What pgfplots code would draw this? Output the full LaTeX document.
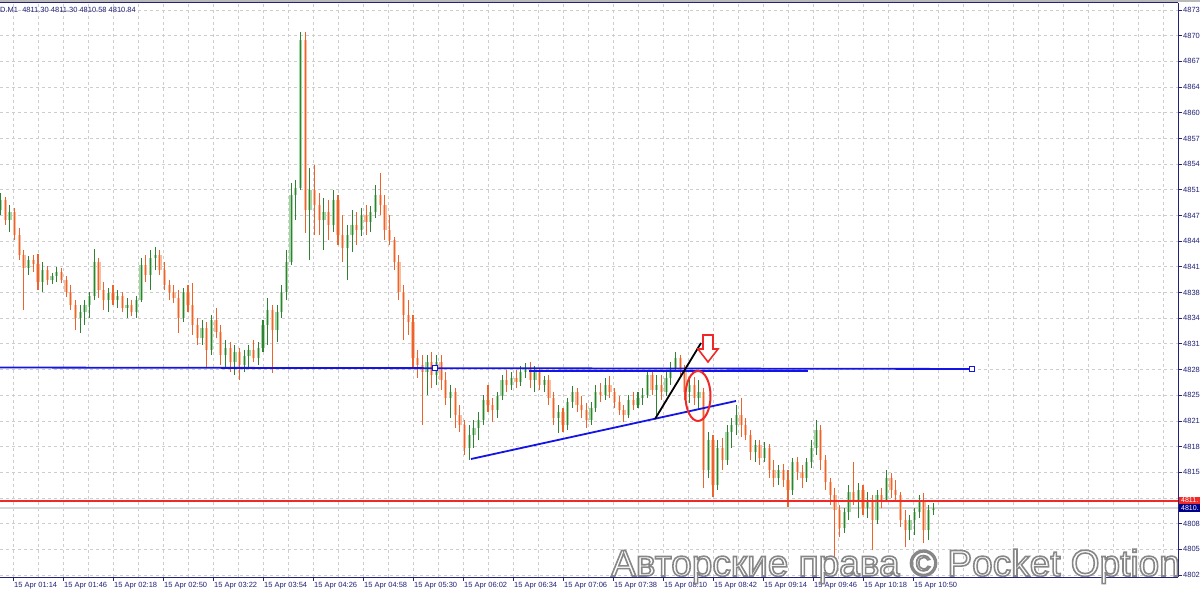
\documentclass[border=0pt]{standalone}
\usepackage{fontspec}
\setmainfont{Liberation Sans}
\usepackage{pgfplots}
\usepackage{pgfplotstable}
\pgfplotsset{compat=1.18}
\definecolor{upwick}{RGB}{46,130,50}
\definecolor{upbody}{RGB}{165,212,165}
\definecolor{dnwick}{RGB}{236,100,44}
\definecolor{dnbody}{RGB}{250,188,158}
\definecolor{tblue}{RGB}{20,20,230}
\definecolor{navy}{RGB}{34,34,120}
\definecolor{gridc}{RGB}{205,205,205}
\definecolor{askred}{RGB}{240,40,40}
\definecolor{bidgray}{RGB}{215,215,215}
\definecolor{boxblue}{RGB}{0,0,140}

\pgfplotstableread{
t o h l c
66 4848.08 4850.21 4847.46 4849.33
69 4849.33 4849.71 4846.21 4846.83
72 4846.83 4848.71 4845.33 4847.83
75 4847.83 4848.33 4844.33 4844.96
78 4844.96 4845.83 4841.83 4842.46
81 4842.46 4843.08 4835.58 4840.83
84 4840.83 4842.33 4839.96 4841.83
87 4841.83 4842.46 4840.33 4841.33
90 4841.33 4842.58 4838.08 4839.08
93 4839.08 4841.58 4837.83 4840.58
96 4840.58 4841.08 4838.71 4839.33
99 4839.33 4840.21 4838.83 4839.83
102 4839.83 4840.96 4839.08 4840.33
105 4840.33 4840.83 4838.96 4839.33
108 4839.33 4839.83 4837.21 4837.83
111 4837.83 4838.71 4835.58 4836.21
114 4836.21 4836.83 4833.08 4834.58
117 4834.58 4836.21 4832.71 4835.33
120 4835.33 4836.83 4833.71 4836.21
123 4836.21 4837.83 4834.58 4837.33
126 4837.33 4843.21 4836.83 4841.58
129 4841.58 4842.08 4837.08 4838.08
132 4838.08 4839.08 4835.58 4836.83
135 4836.83 4838.33 4835.33 4837.71
138 4837.71 4838.71 4836.21 4836.83
141 4836.83 4838.08 4835.83 4837.33
144 4837.33 4837.83 4835.33 4835.83
147 4835.83 4837.08 4834.58 4836.21
150 4836.21 4836.83 4834.83 4835.33
153 4835.33 4837.33 4834.58 4836.83
156 4836.83 4842.08 4836.58 4841.21
159 4841.21 4842.46 4839.08 4839.96
162 4839.96 4843.08 4838.08 4842.08
165 4842.08 4843.46 4840.58 4842.46
168 4842.46 4843.08 4839.96 4840.58
171 4840.58 4841.58 4838.08 4838.71
174 4838.71 4839.33 4836.83 4837.83
177 4837.83 4838.71 4836.46 4837.08
180 4837.08 4838.08 4832.71 4834.58
183 4834.58 4838.33 4834.08 4837.83
186 4837.83 4838.71 4835.33 4836.21
189 4836.21 4838.96 4832.46 4833.71
192 4833.71 4834.58 4831.21 4832.08
195 4832.08 4834.33 4831.21 4833.33
198 4833.33 4834.08 4828.46 4830.58
201 4830.58 4834.96 4829.96 4834.33
204 4834.33 4835.83 4832.08 4832.83
207 4832.83 4833.71 4828.71 4829.96
210 4829.96 4831.83 4828.33 4830.83
213 4830.83 4831.58 4827.83 4829.08
216 4829.08 4831.21 4827.46 4830.33
219 4830.33 4830.83 4826.83 4828.71
222 4828.71 4830.58 4827.83 4829.83
225 4829.83 4831.21 4828.33 4830.58
228 4830.58 4831.83 4829.08 4829.58
231 4829.58 4831.58 4828.71 4830.83
234 4830.83 4834.33 4830.33 4833.71
237 4833.71 4837.08 4831.21 4835.58
240 4835.58 4836.21 4827.71 4833.08
243 4833.08 4836.21 4831.58 4835.33
246 4835.33 4838.71 4834.58 4837.83
249 4837.83 4843.08 4836.83 4841.58
252 4841.58 4851.46 4841.21 4849.96
255 4849.96 4851.83 4846.83 4850.83
258 4850.83 4870.33 4850.58 4869.33
261 4869.33 4870.33 4845.21 4848.08
264 4848.08 4853.33 4841.83 4850.58
267 4850.58 4853.71 4844.96 4848.71
270 4848.71 4850.21 4844.96 4846.83
273 4846.83 4849.58 4843.08 4847.83
276 4847.83 4849.33 4844.33 4846.21
279 4846.21 4850.58 4845.33 4849.33
282 4849.33 4849.96 4843.71 4844.96
285 4844.96 4847.46 4841.58 4843.33
288 4843.33 4846.21 4839.33 4844.96
291 4844.96 4848.08 4842.83 4846.21
294 4846.21 4847.83 4843.71 4845.58
297 4845.58 4848.33 4844.83 4847.46
300 4847.46 4848.71 4844.96 4846.58
303 4846.58 4848.58 4845.33 4847.83
306 4847.83 4851.21 4847.08 4849.96
309 4849.96 4852.71 4847.46 4848.71
312 4848.71 4849.96 4844.33 4845.58
315 4845.58 4847.46 4843.71 4844.33
318 4844.33 4844.71 4840.58 4841.58
321 4841.58 4842.46 4836.83 4837.83
324 4837.83 4838.71 4831.83 4834.96
327 4834.96 4836.83 4832.46 4834.08
330 4834.08 4834.96 4828.46 4829.58
333 4829.58 4830.58 4827.08 4828.71
336 4828.71 4829.96 4821.21 4827.83
339 4827.83 4829.96 4824.96 4829.08
342 4829.08 4830.33 4825.83 4827.46
345 4827.46 4829.96 4826.21 4829.08
348 4829.08 4829.96 4825.58 4826.83
351 4826.83 4827.83 4823.71 4824.58
354 4824.58 4826.21 4822.08 4825.33
357 4825.33 4825.83 4820.83 4822.46
360 4822.46 4823.71 4820.33 4821.21
363 4821.21 4821.83 4817.46 4818.33
366 4818.33 4821.21 4816.83 4819.96
369 4819.96 4821.83 4818.33 4820.83
372 4820.83 4822.83 4819.33 4821.83
375 4821.83 4824.96 4821.21 4824.33
378 4824.33 4826.21 4822.83 4823.71
381 4823.71 4824.58 4821.58 4823.08
384 4823.08 4825.33 4822.08 4824.83
387 4824.83 4827.46 4824.33 4826.83
390 4826.83 4828.08 4825.33 4826.21
393 4826.21 4827.83 4825.58 4827.08
396 4827.08 4828.08 4825.83 4826.58
399 4826.58 4828.58 4826.08 4827.83
402 4827.83 4828.96 4827.08 4828.33
405 4828.33 4829.08 4825.83 4826.83
408 4826.83 4828.58 4825.33 4827.83
411 4827.83 4828.33 4825.58 4826.21
414 4826.21 4827.33 4825.33 4826.83
417 4826.83 4827.46 4823.71 4824.58
420 4824.58 4825.33 4821.21 4822.08
423 4822.08 4823.71 4820.21 4822.83
426 4822.83 4823.33 4820.33 4821.21
429 4821.21 4824.58 4820.58 4824.08
432 4824.08 4826.08 4823.33 4825.33
435 4825.33 4825.83 4822.83 4823.71
438 4823.71 4824.83 4822.08 4823.08
441 4823.08 4823.96 4820.83 4821.83
444 4821.83 4824.08 4821.21 4823.33
447 4823.33 4826.21 4822.83 4825.33
450 4825.33 4826.46 4824.08 4824.96
453 4824.96 4827.08 4824.33 4826.21
456 4826.21 4827.33 4824.58 4825.33
459 4825.33 4825.83 4823.33 4824.08
462 4824.08 4824.83 4822.46 4823.08
465 4823.08 4823.71 4821.58 4822.46
468 4822.46 4824.96 4822.08 4824.33
471 4824.33 4825.33 4823.08 4823.71
474 4823.71 4825.33 4823.33 4824.58
477 4824.58 4825.83 4823.71 4824.96
480 4824.96 4828.08 4824.58 4827.46
483 4827.46 4827.83 4824.96 4825.58
486 4825.58 4827.46 4822.08 4826.21
489 4826.21 4827.46 4824.33 4825.33
492 4825.33 4828.08 4824.83 4827.08
495 4827.08 4829.08 4826.21 4828.33
498 4828.33 4830.33 4827.83 4829.58
501 4829.58 4829.96 4827.08 4828.08
504 4828.08 4828.71 4824.33 4825.33
507 4825.33 4827.08 4823.96 4826.21
510 4826.21 4827.21 4823.71 4824.58
513 4824.58 4826.83 4823.08 4825.33
516 4825.33 4825.83 4813.33 4815.58
519 4815.58 4820.33 4814.58 4819.33
522 4819.33 4819.96 4812.21 4813.71
525 4813.71 4819.33 4813.08 4818.33
528 4818.33 4819.58 4815.58 4816.83
531 4816.83 4821.21 4816.21 4820.33
534 4820.33 4822.08 4818.33 4821.21
537 4821.21 4823.71 4819.96 4822.46
540 4822.46 4824.58 4819.71 4821.21
543 4821.21 4822.08 4819.33 4819.96
546 4819.96 4820.58 4816.83 4817.83
549 4817.83 4819.33 4816.58 4818.71
552 4818.71 4819.33 4816.21 4817.08
555 4817.08 4819.08 4816.58 4818.33
558 4818.33 4818.83 4814.58 4815.58
561 4815.58 4816.83 4813.46 4814.58
564 4814.58 4816.21 4813.71 4815.58
567 4815.58 4816.33 4813.46 4814.33
570 4814.33 4815.58 4810.96 4813.08
573 4813.08 4817.08 4812.46 4816.58
576 4816.58 4817.21 4814.33 4815.33
579 4815.33 4816.21 4813.33 4814.58
582 4814.58 4817.08 4814.08 4816.58
585 4816.58 4819.33 4815.83 4818.33
588 4818.33 4821.83 4817.46 4820.58
591 4820.58 4821.21 4815.58 4816.83
594 4816.83 4817.46 4813.08 4814.08
597 4814.08 4814.58 4811.21 4812.46
600 4812.46 4813.33 4802.33 4810.58
603 4810.58 4811.21 4807.21 4808.33
606 4808.33 4810.83 4807.71 4810.33
609 4810.33 4813.71 4809.33 4812.83
612 4812.83 4816.58 4811.21 4811.83
615 4811.83 4813.96 4809.58 4813.08
618 4813.08 4813.71 4809.96 4810.83
621 4810.83 4812.83 4809.58 4811.83
624 4811.83 4812.46 4805.58 4809.33
627 4809.33 4813.08 4808.83 4812.46
630 4812.46 4813.33 4810.83 4811.83
633 4811.83 4815.58 4811.58 4814.58
636 4814.58 4815.21 4812.08 4813.08
639 4813.08 4814.33 4811.58 4812.46
642 4812.46 4812.83 4808.46 4809.33
645 4809.33 4810.58 4805.96 4808.08
648 4808.08 4809.96 4806.83 4809.33
651 4809.33 4810.83 4807.46 4810.33
654 4810.33 4812.46 4809.58 4811.83
657 4811.83 4812.71 4806.46 4808.08
660 4808.08 4811.21 4806.83 4810.58
663 4810.58 4811.46 4809.96 4810.83
}\candles

\newcommand{\wmtext}{Авторские права © Pocket Option}

\begin{document}
\begin{tikzpicture}
\fill[white] (0pt,-13pt) rectangle (1200pt,577pt);
\begin{axis}[
  at={(0pt,0pt)}, anchor=south west,
  scale only axis, width=1178pt, height=574pt,
  xmin=65.68, xmax=819.6, ymin=4802.205, ymax=4873.955,
  axis x line*=bottom, axis y line*=right,
  axis line style={draw=navy, line width=1pt},
  tick align=outside, major tick length=4pt, minor tick length=0pt,
  tick style={draw=navy, line width=0.8pt},
  xtick={74,106,...,650},
  xticklabels={15 Apr 01:14,15 Apr 01:46,15 Apr 02:18,15 Apr 02:50,15 Apr 03:22,15 Apr 03:54,15 Apr 04:26,15 Apr 04:58,15 Apr 05:30,15 Apr 06:02,15 Apr 06:34,15 Apr 07:06,15 Apr 07:38,15 Apr 08:10,15 Apr 08:42,15 Apr 09:14,15 Apr 09:46,15 Apr 10:18,15 Apr 10:50},
  minor xtick={74,90,...,810},
  xminorgrids=true, xmajorgrids=false, ymajorgrids=true,
  minor grid style={draw=gridc, dash pattern=on 3pt off 3pt, line width=0.8pt},
  major grid style={draw=gridc, dash pattern=on 3pt off 3pt, line width=0.8pt},
  ytick={4802.455,4805.665,4808.875,4812.085,4815.295,4818.505,4821.715,4824.925,4828.135,4831.345,4834.555,4837.765,4840.975,4844.185,4847.395,4850.605,4853.815,4857.025,4860.235,4863.445,4866.655,4869.865,4873.075},
  yticklabels={4802.,4805.,4808.,{},4815.,4818.,4821.,4825.,4828.,4831.,4834.,4838.,4841.,4844.,4847.,4851.,4854.,4857.,4860.,4864.,4867.,4870.,4873.},
  ticklabel style={font=\fontsize{7.5}{8}\selectfont, text=navy},
  xticklabel style={anchor=north west, inner sep=0pt, xshift=1pt, yshift=-1pt},
  yticklabel style={anchor=west, inner sep=0pt, xshift=1pt},
  clip=false,
]
% bid line
\addplot[draw=bidgray, line width=2pt] coordinates {(65.68,4810.84) (819.6,4810.84)};
% candle bodies
\addplot[draw=none, mark=none, error bars/.cd, y dir=plus, y explicit, error mark=none,
  error bar style={draw=upbody, line width=3.3pt}]
  table[x=t, y expr={\thisrow{c}>=\thisrow{o} ? \thisrow{o} : nan}, y error plus expr={abs(\thisrow{c}-\thisrow{o})}] \candles;
\addplot[draw=none, mark=none, error bars/.cd, y dir=plus, y explicit, error mark=none,
  error bar style={draw=dnbody, line width=3.3pt}]
  table[x=t, y expr={\thisrow{c}<\thisrow{o} ? \thisrow{c} : nan}, y error plus expr={abs(\thisrow{o}-\thisrow{c})}] \candles;
% wicks
\addplot[draw=none, mark=none, error bars/.cd, y dir=plus, y explicit, error mark=none,
  error bar style={draw=upwick, line width=1.1pt}]
  table[x=t, y expr={\thisrow{c}>=\thisrow{o} ? \thisrow{l} : nan}, y error plus expr={\thisrow{h}-\thisrow{l}}] \candles;
\addplot[draw=none, mark=none, error bars/.cd, y dir=plus, y explicit, error mark=none,
  error bar style={draw=dnwick, line width=1.1pt}]
  table[x=t, y expr={\thisrow{c}<\thisrow{o} ? \thisrow{l} : nan}, y error plus expr={\thisrow{h}-\thisrow{l}}] \candles;
% ask line
\addplot[draw=askred, line width=1.1pt] coordinates {(65.68,4811.705) (819.6,4811.705)};
% horizontal level lines
\addplot[draw=tblue, line width=1.8pt] coordinates {(65.68,4828.39) (687.8,4828.21)};
\addplot[draw=tblue, line width=1.5pt] coordinates {(404.24,4827.96) (582.8,4827.96)};
\addplot[only marks, mark=square*, mark size=2.5pt, mark options={fill=white, draw=tblue, line width=1pt}]
  coordinates {(344.1,4828.33) (687.8,4828.21)};
% rising trend line
\addplot[draw=tblue, line width=1.8pt] coordinates {(367.12,4816.955) (536.72,4824.205)};
% black line
\addplot[draw=black, line width=1.8pt] coordinates {(484.88,4821.955) (514.32,4831.455)};
% red ellipse
\draw[askred, line width=2pt] (axis cs:512.4,4824.83) ellipse [x radius=12.5pt, y radius=25pt];
% red arrow
\draw[askred, line width=1.6pt, fill=white, line join=miter]
  (axis cs:515.6,4832.45) -- (axis cs:522.0,4832.45) -- (axis cs:522.0,4830.705)
  -- (axis cs:525.2,4830.705) -- (axis cs:518.8,4829.08) -- (axis cs:512.4,4830.705)
  -- (axis cs:515.6,4830.705) -- cycle;
\end{axis}
% frame top
\fill[gray!55] (0pt,575pt) rectangle (1200pt,577pt);
\draw[navy, line width=1pt] (0pt,574pt) -- (1178pt,574pt);
% title
\node[anchor=west, inner sep=0pt, text=navy, font=\fontsize{7.5}{8}\selectfont] at (0pt,567pt)
  {D.M1 \ 4811.30 4811.30 4810.58 4810.84};
% price boxes
\fill[askred] (1179pt,73pt) rectangle (1200pt,80.5pt);
\node[anchor=west, inner sep=0pt, text=white, font=\fontsize{7}{7}\selectfont] at (1181pt,76.7pt) {4811.};
\fill[boxblue] (1179pt,65.5pt) rectangle (1200pt,73pt);
\node[anchor=west, inner sep=0pt, text=white, font=\fontsize{7}{7}\selectfont] at (1181pt,69.2pt) {4810.};
% watermark: outlined text (stroke + fill)
\node[anchor=base west, inner sep=0pt, text=white, font=\fontsize{37}{40}\selectfont] at (611pt,1pt)
  {\special{pdf:literal direct q 2 Tr 1.6 w 0.53 G}\wmtext\special{pdf:literal direct Q}};
\pgfresetboundingbox
\useasboundingbox (0pt,-13pt) rectangle (1200pt,577pt);
\end{tikzpicture}
\end{document}
